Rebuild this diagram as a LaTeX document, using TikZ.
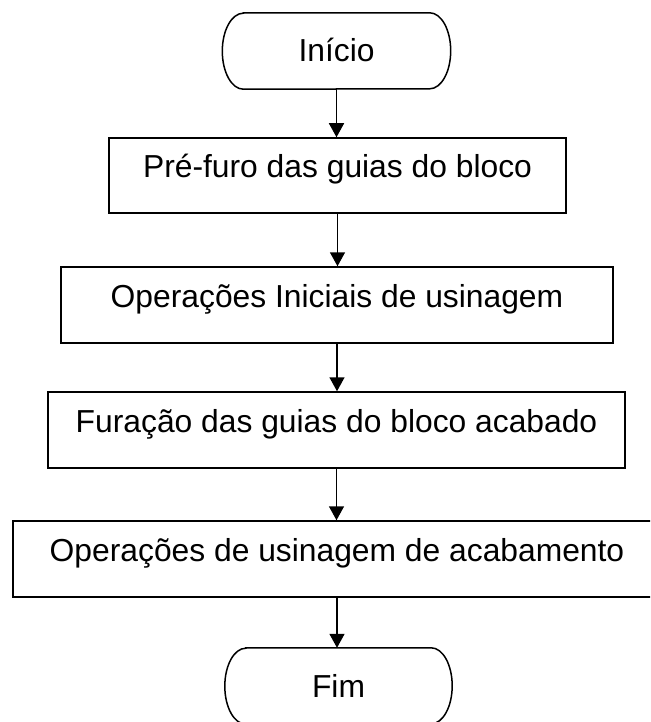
\documentclass[tikz,border=0pt]{standalone}
\usepackage{fontspec}
\setmainfont{Liberation Sans}
\usetikzlibrary{arrows.meta}
\begin{document}
\begin{tikzpicture}[x=1pt,y=-1pt,
  every node/.style={font=\fontsize{31.8pt}{36pt}\selectfont, inner sep=0pt},
  procbox/.style={draw, line width=1.5pt, text height=5pt, text depth=0pt},
  termbox/.style={text height=22pt, text depth=0pt, minimum height=76pt},
  flow/.style={line width=1.5pt, -{Triangle[width=15pt,length=14pt]}}]
\clip (0,0) rectangle (650,722);
\fill[white] (0,0) rectangle (650,722);
\node[termbox, minimum width=228pt] (ini) at (336.5,51) {Início};
\node[procbox, minimum width=457pt, minimum height=75pt] (b1) at (337.5,175.5) {Pré-furo das guias do bloco};
\node[procbox, minimum width=552pt, minimum height=76pt] (b2) at (337,305) {Operações Iniciais de usinagem};
\node[procbox, minimum width=577pt, minimum height=76pt] (b3) at (336.5,430) {Furação das guias do bloco acabado};
\node[procbox, minimum width=648pt, minimum height=76pt] (b4) at (337,559) {Operações de usinagem de acabamento};
\node[termbox, minimum width=227pt] (fim) at (338.5,686) {Fim};
\foreach \t in {ini,fim}{
  \draw[line width=1.5pt] ([xshift=21pt]\t.north west) -- ([xshift=-21pt]\t.north east)
    arc[start angle=90,end angle=-90,x radius=21pt,y radius=38pt]
    -- ([xshift=21pt]\t.south west)
    arc[start angle=270,end angle=90,x radius=21pt,y radius=38pt] -- cycle;
}
\draw[flow] (ini.south) -- (ini.south |- b1.north);
\draw[flow] (b1.south) -- (b1.south |- b2.north);
\draw[flow] (b2.south) -- (b2.south |- b3.north);
\draw[flow] (b3.south) -- (b3.south |- b4.north);
\draw[flow] (b4.south) -- (b4.south |- fim.north);
\end{tikzpicture}
\end{document}
